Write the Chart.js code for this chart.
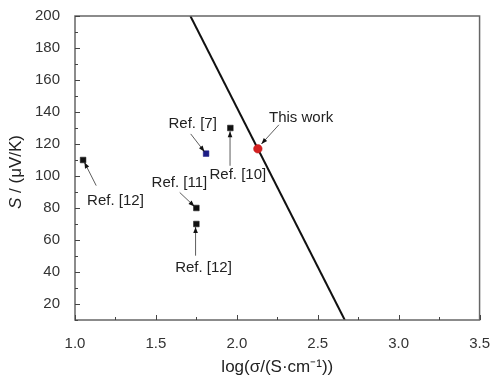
<!DOCTYPE html>
<html>
<head>
<meta charset="utf-8">
<script src="https://cdn.jsdelivr.net/npm/chart.js@4/dist/chart.umd.min.js"></script>
<style>
  html, body { margin: 0; padding: 0; background: #fff; }
  #wrap { width: 497px; height: 380px; }
</style>
</head>
<body>
<div id="wrap"><canvas id="c" width="497" height="380"></canvas></div>
<script>
// values
const refLabels = ["Ref. [12]", "Ref. [7]", "Ref. [10]", "Ref. [11]", "Ref. [12]"];
const refX = [1.05, 1.81, 1.96, 1.75, 1.75];
const refY = [110, 114, 130, 80, 70];
const refColors = ["#111", "#1c1c86", "#111", "#111", "#111"];

const thisWorkX = [2.13];
const thisWorkY = [117];

const lineX = [1.713, 2.667];
const lineY = [200, 10];

const xTicks = [1.0, 1.5, 2.0, 2.5, 3.0, 3.5];
const yTicks = [20, 40, 60, 80, 100, 120, 140, 160, 180, 200];

// label text position and arrow (tail -> head) in data units
const notes = [
  { text: "Ref. [12]", tx: 1.25, ty: 84.5, ax: [1.131, 94], ah: [1.058, 108.6] },
  { text: "Ref. [7]", tx: 1.727, ty: 132.6, ax: [1.715, 126.3], ah: [1.8, 115.2] },
  { text: "Ref. [10]", tx: 2.006, ty: 100.7, ax: [1.958, 106.4], ah: [1.958, 128] },
  { text: "Ref. [11]", tx: 1.645, ty: 95.8, ax: [1.647, 89.7], ah: [1.738, 81] },
  { text: "Ref. [12]", tx: 1.794, ty: 42.7, ax: [1.745, 50.2], ah: [1.745, 68.2] },
  { text: "This work", tx: 2.397, ty: 136.3, ax: [2.26, 132], ah: [2.152, 120] }
];

const FAMILY = "'Liberation Sans', Arial, sans-serif";

const frameAndTicks = {
  id: "frameAndTicks",
  afterDraw(chart) {
    const { ctx, chartArea: a, scales } = chart;
    ctx.save();
    ctx.strokeStyle = "#666";
    ctx.lineWidth = 1.5;
    ctx.strokeRect(a.left, a.top, a.right - a.left, a.bottom - a.top);
    ctx.strokeStyle = "#444";
    ctx.lineWidth = 1;
    ctx.beginPath();
    for (let v = 1.0; v <= 3.5001; v += 0.25) {
      const px = Math.round(scales.x.getPixelForValue(v)) + 0.5;
      const major = Math.abs(v * 2 - Math.round(v * 2)) < 1e-6;
      ctx.moveTo(px, a.bottom);
      ctx.lineTo(px, a.bottom - (major ? 5 : 3));
    }
    for (let v = 10; v <= 200; v += 10) {
      const py = Math.round(scales.y.getPixelForValue(v)) + 0.5;
      const major = v % 20 === 0;
      ctx.moveTo(a.left, py);
      ctx.lineTo(a.left + (major ? 5 : 3), py);
    }
    ctx.stroke();

    // y axis title with italic S
    ctx.save();
    ctx.translate(16, (a.top + a.bottom) / 2 + 4);
    ctx.rotate(-Math.PI / 2);
    ctx.fillStyle = "#222";
    ctx.textBaseline = "middle";
    const italic = "italic 17px " + FAMILY, normal = "17px " + FAMILY;
    const rest = " / (\u03bcV/K)";
    ctx.font = italic;
    const w1 = ctx.measureText("S").width;
    ctx.font = normal;
    const w2 = ctx.measureText(rest).width;
    ctx.textAlign = "left";
    ctx.font = italic;
    ctx.fillText("S", -(w1 + w2) / 2, 0);
    ctx.font = normal;
    ctx.fillText(rest, -(w1 + w2) / 2 + w1, 0);
    ctx.restore();

    // annotations
    ctx.font = "15px " + FAMILY;
    ctx.textAlign = "center";
    ctx.textBaseline = "middle";
    notes.forEach(n => {
      ctx.fillStyle = "#222";
      ctx.fillText(n.text, scales.x.getPixelForValue(n.tx), scales.y.getPixelForValue(n.ty));
      const x1 = scales.x.getPixelForValue(n.ax[0]), y1 = scales.y.getPixelForValue(n.ax[1]);
      const x2 = scales.x.getPixelForValue(n.ah[0]), y2 = scales.y.getPixelForValue(n.ah[1]);
      ctx.strokeStyle = "#333";
      ctx.lineWidth = 0.8;
      ctx.beginPath();
      ctx.moveTo(x1, y1);
      ctx.lineTo(x2, y2);
      ctx.stroke();
      const ang = Math.atan2(y2 - y1, x2 - x1);
      const L = 6, W = 2.3;
      ctx.fillStyle = "#111";
      ctx.beginPath();
      ctx.moveTo(x2, y2);
      ctx.lineTo(x2 - L * Math.cos(ang) + W * Math.sin(ang), y2 - L * Math.sin(ang) - W * Math.cos(ang));
      ctx.lineTo(x2 - L * Math.cos(ang) - W * Math.sin(ang), y2 - L * Math.sin(ang) + W * Math.cos(ang));
      ctx.closePath();
      ctx.fill();
    });
    ctx.restore();
  }
};

const font = { family: FAMILY, size: 15 };

new Chart(document.getElementById("c"), {
  type: "scatter",
  data: {
    datasets: [
      {
        type: "line",
        data: lineX.map((x, i) => ({ x, y: lineY[i] })),
        borderColor: "#111",
        borderWidth: 2,
        pointRadius: 0,
        fill: false,
        order: 2
      },
      {
        data: refX.map((x, i) => ({ x, y: refY[i] })),
        pointStyle: "rect",
        pointRadius: 4,
        backgroundColor: refColors,
        borderColor: refColors,
        borderWidth: 0.5,
        order: 1
      },
      {
        data: thisWorkX.map((x, i) => ({ x, y: thisWorkY[i] })),
        pointStyle: "circle",
        pointRadius: 4.3,
        backgroundColor: "#d42020",
        borderColor: "#c01818",
        borderWidth: 0.5,
        order: 0
      }
    ]
  },
  options: {
    responsive: false,
    animation: false,
    layout: { padding: { top: 15, right: 10, left: 0, bottom: 0 } },
    plugins: { legend: { display: false }, tooltip: { enabled: false } },
    scales: {
      x: {
        type: "linear",
        min: 1.0,
        max: 3.5,
        afterBuildTicks: s => { s.ticks = xTicks.map(v => ({ value: v })); },
        afterFit: s => { s.height = 60; },
        grid: { display: false },
        border: { display: false },
        ticks: { color: "#333", font, padding: 7, maxRotation: 0, callback: v => v.toFixed(1) },
        title: {
          display: true,
          text: "log(\u03c3/(S\u00b7cm\u207b\u00b9))",
          color: "#222",
          font: { family: FAMILY, size: 17 },
          padding: { top: 0, bottom: 2 }
        }
      },
      y: {
        type: "linear",
        min: 10,
        max: 200,
        afterBuildTicks: s => { s.ticks = yTicks.map(v => ({ value: v })); },
        afterFit: s => { s.width = 75; },
        grid: { display: false },
        border: { display: false },
        ticks: { color: "#333", font, padding: 7 },
        title: { display: false }
      }
    }
  },
  plugins: [frameAndTicks]
});
</script>
</body>
</html>
